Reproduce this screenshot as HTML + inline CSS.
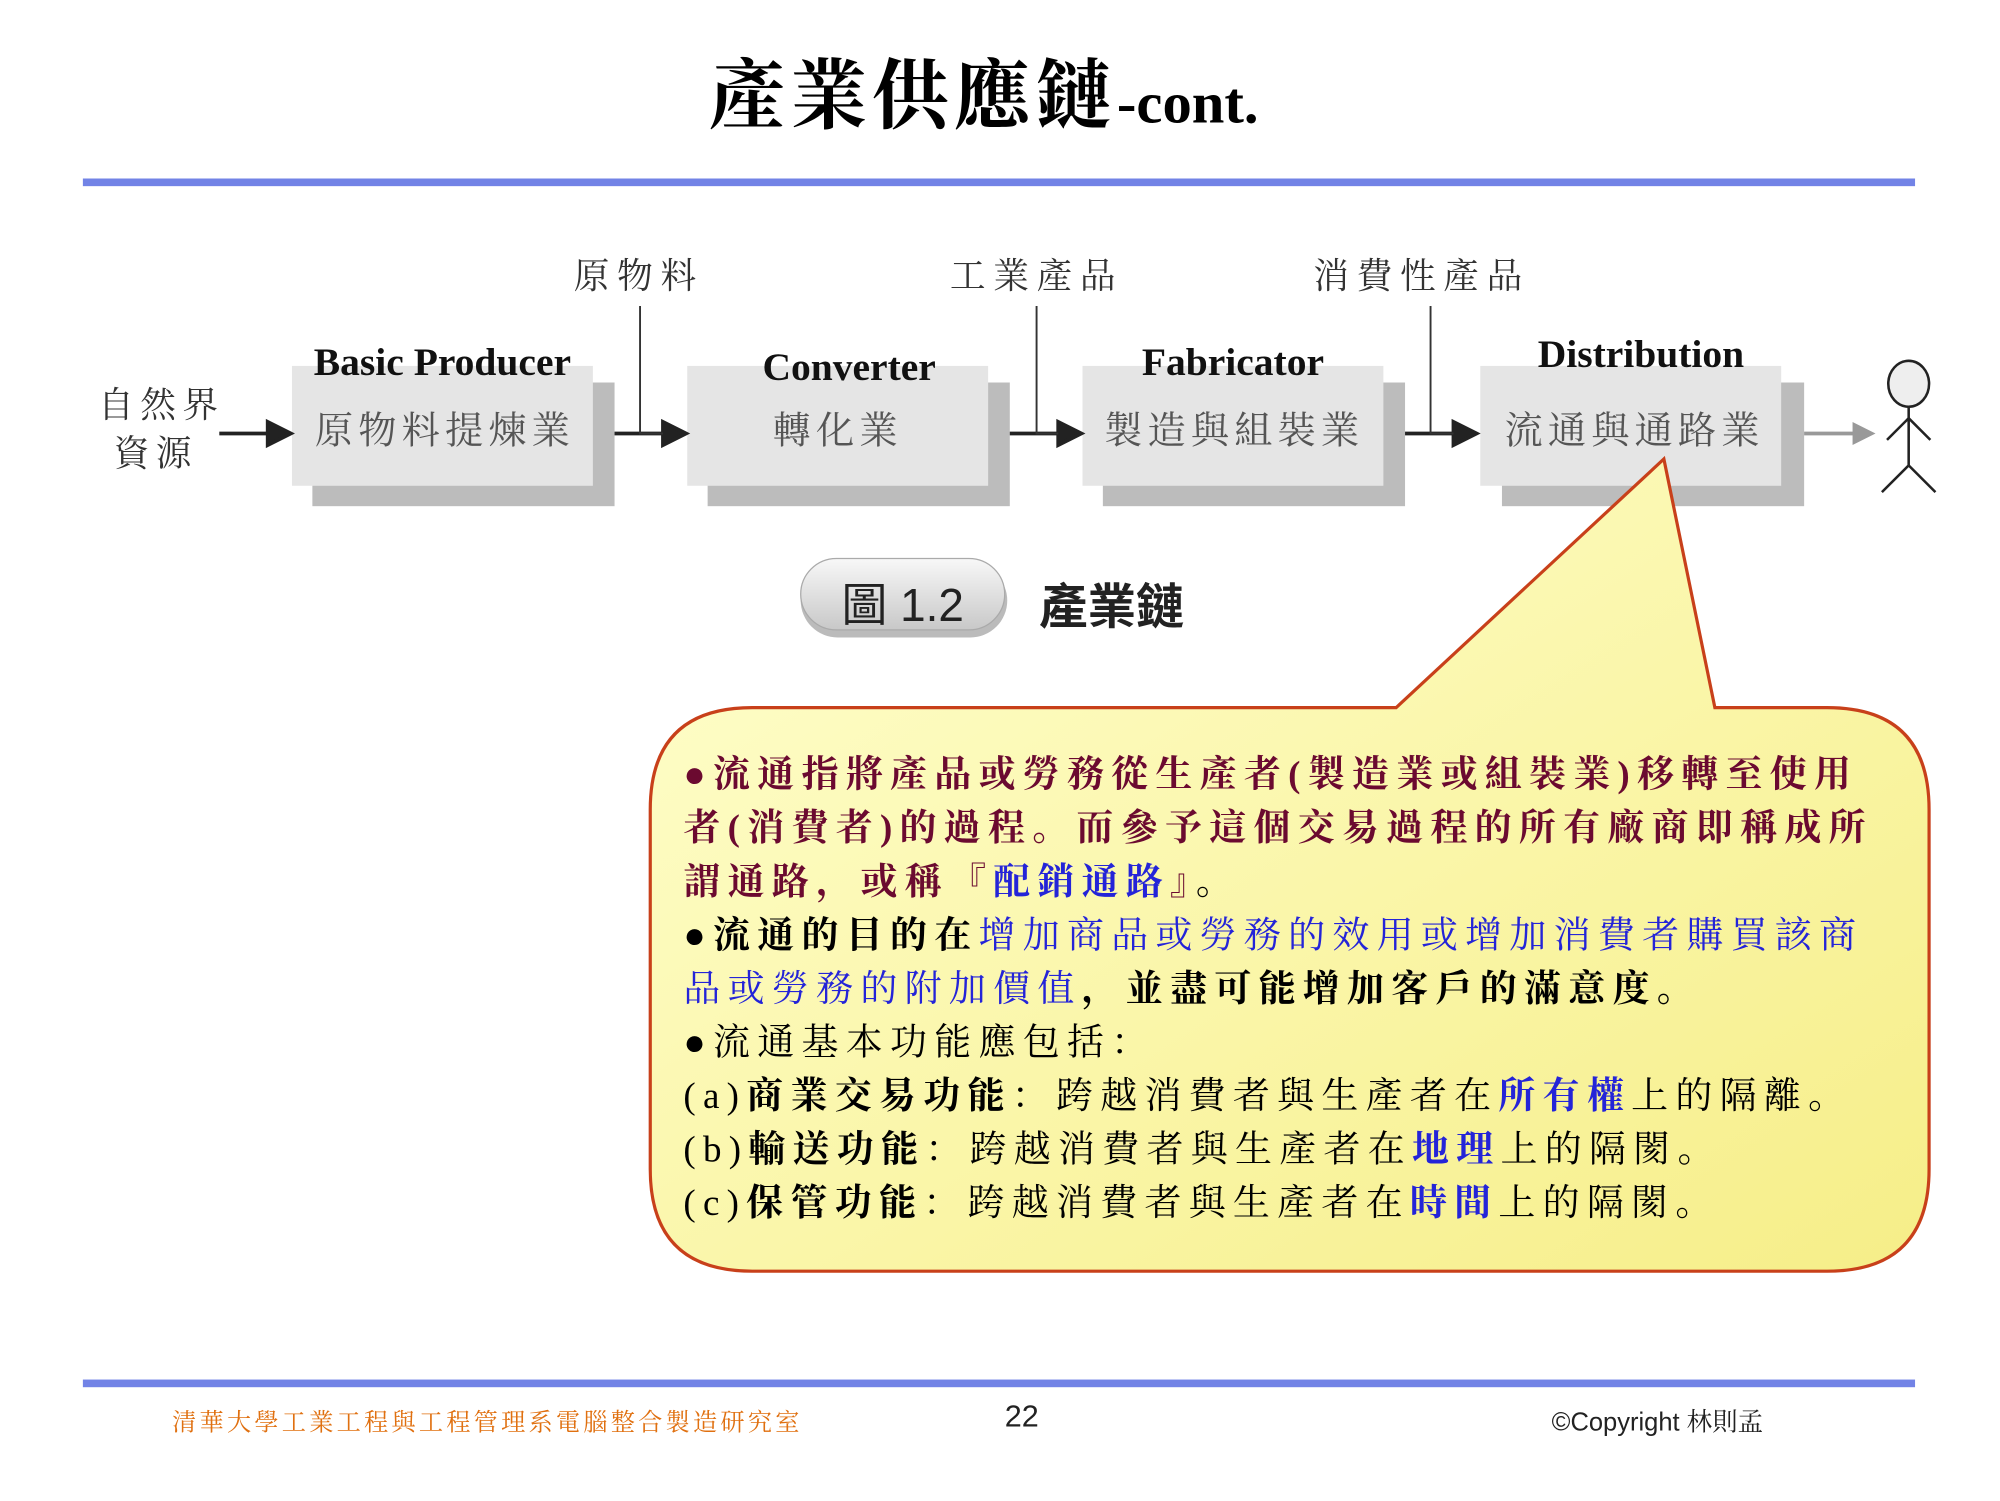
<!DOCTYPE html>
<html><head><meta charset="utf-8">
<style>
html,body{margin:0;padding:0;background:#fff;width:2000px;height:1500px;overflow:hidden}
#s{position:absolute;left:0;top:0;width:1570px;height:1177px;transform:scale(1.2750);transform-origin:0 0}
.a{position:absolute;white-space:nowrap}
.sans{font-family:"Liberation Sans","Noto Sans CJK TC",sans-serif}
.bar{position:absolute;left:65px;width:1437px;height:6px;background:#7283e6}
.fr{position:absolute;background:#e5e5e5;width:236px;height:94px;top:287px}
.sh{position:absolute;background:#bcbcbc;width:237px;height:97px;top:300px}
.hd{position:absolute;font:bold 31px "Liberation Serif",serif;color:#111;white-space:nowrap;text-align:center;width:260px}
.bt{position:absolute;font:30px "Noto Serif CJK SC","Noto Sans CJK TC",serif;color:#555;letter-spacing:4px;white-space:nowrap;text-align:center;width:260px;top:313px}
.lb{position:absolute;font:28px "Noto Serif CJK SC","Noto Sans CJK TC",serif;color:#333;letter-spacing:6px;white-space:nowrap;top:195px}
.t{position:absolute;left:536px;font-size:29px;letter-spacing:5.7px;white-space:nowrap;font-family:"Liberation Serif","Noto Serif CJK SC","Noto Sans CJK TC",serif;line-height:42px}
.m{color:#6b0a30;font-weight:bold}
.b{color:#2424d8}
.k{color:#000;font-weight:bold}
</style></head><body><div id="s">
<div class="a" style="left:556px;top:28px;font:bold 60px 'Noto Serif CJK SC','Noto Sans CJK TC',serif;color:#000;letter-spacing:4px">產業供應鏈<span style="font:bold 46px 'Liberation Serif',serif;letter-spacing:0">-cont.</span></div>
<div class="bar" style="top:140px"></div>

<div class="lb" style="left:450px">原物料</div>
<div class="lb" style="left:745px">工業產品</div>
<div class="lb" style="left:1030px">消費性產品</div>

<div class="a" style="left:77px;top:297px;font:28px 'Noto Serif CJK SC',serif;color:#333;letter-spacing:5px;line-height:38px">自然界<br>&nbsp;資源</div>

<div class="sh" style="left:245px"></div><div class="fr" style="left:229px"></div>
<div class="sh" style="left:555px"></div><div class="fr" style="left:539px"></div>
<div class="sh" style="left:865px"></div><div class="fr" style="left:849px"></div>
<div class="sh" style="left:1178px"></div><div class="fr" style="left:1161px"></div>

<div class="hd" style="left:217px;top:266px">Basic Producer</div>
<div class="hd" style="left:536px;top:270px">Converter</div>
<div class="hd" style="left:837px;top:266px">Fabricator</div>
<div class="hd" style="left:1157px;top:260px">Distribution</div>
<div class="bt" style="left:219px">原物料提煉業</div>
<div class="bt" style="left:527px">轉化業</div>
<div class="bt" style="left:838px">製造與組裝業</div>
<div class="bt" style="left:1152px">流通與通路業</div>

<svg class="a" style="left:0;top:0" width="1570" height="1177">
<g stroke="#222" stroke-width="3" fill="#222">
<line x1="172" y1="340" x2="212" y2="340"/><polygon points="228,340 210,331 210,349"/>
<line x1="482" y1="340" x2="522" y2="340"/><polygon points="538,340 520,331 520,349"/>
<line x1="792" y1="340" x2="832" y2="340"/><polygon points="848,340 830,331 830,349"/>
<line x1="1102" y1="340" x2="1142" y2="340"/><polygon points="1158,340 1140,331 1140,349"/>
</g>
<g stroke="#333" stroke-width="1.5" fill="none">
<polyline points="502,240 502,340 520,340"/>
<polyline points="813,240 813,340 830,340"/>
<polyline points="1122,240 1122,340 1140,340"/>
</g>
<line x1="1415" y1="340" x2="1455" y2="340" stroke="#999" stroke-width="3"/><polygon points="1471,340 1453,331 1453,349" fill="#999"/>
<g stroke="#222" stroke-width="2" fill="none">
<ellipse cx="1497" cy="301" rx="16" ry="18" fill="#eee"/>
<line x1="1497" y1="319" x2="1497" y2="365"/>
<line x1="1497" y1="328" x2="1480" y2="345"/><line x1="1497" y1="328" x2="1514" y2="345"/>
<line x1="1497" y1="365" x2="1476" y2="386"/><line x1="1497" y1="365" x2="1518" y2="386"/>
</g>
<defs>
<linearGradient id="g" x1="0" y1="0" x2="1" y2="1"><stop offset="0" stop-color="#ffffd0"/><stop offset="1" stop-color="#f6ee88"/></linearGradient>
<linearGradient id="p" x1="0" y1="0" x2="0" y2="1"><stop offset="0" stop-color="#f8f8f8"/><stop offset="1" stop-color="#c8c8c8"/></linearGradient>
</defs>
<rect x="628" y="442" width="162" height="58" rx="29" fill="#bbb"/>
<rect x="628" y="438" width="160" height="56" rx="28" fill="url(#p)" stroke="#aaa"/>
<path d="M590,555 L1095,555 L1305,360 L1345,555 L1433,555 Q1513,555 1513,635 L1513,917 Q1513,997 1433,997 L590,997 Q510,997 510,917 L510,635 Q510,555 590,555 Z" fill="url(#g)" stroke="#c8401a" stroke-width="2.5"/>
</svg>
<div class="a sans" style="left:660px;top:446px;font-size:36px;color:#222">圖 1.2</div>
<div class="a" style="left:815px;top:445px;font:bold 38px 'Noto Sans CJK TC',sans-serif;color:#222">產業鏈</div>

<div class="t" style="top:587px"><span class="m">●流通指將產品或勞務從生產者(製造業或組裝業)移轉至使用</span></div>
<div class="t" style="top:629px"><span class="m">者(消費者)的過程。而參予這個交易過程的所有廠商即稱成所</span></div>
<div class="t" style="top:671px"><span class="m">謂通路，或稱『</span><span class="b" style="font-weight:bold">配銷通路</span><span class="m">』</span>。</div>
<div class="t" style="top:713px"><span class="k">●流通的目的在</span><span class="b">增加商品或勞務的效用或增加消費者購買該商</span></div>
<div class="t" style="top:755px"><span class="b">品或勞務的附加價值</span><span class="k">，並盡可能增加客戶的滿意度。</span></div>
<div class="t" style="top:797px">●流通基本功能應包括：</div>
<div class="t" style="top:839px">(a)<b>商業交易功能</b>：跨越消費者與生產者在<b class="b">所有權</b>上的隔離。</div>
<div class="t" style="top:881px">(b)<b>輸送功能</b>：跨越消費者與生產者在<b class="b">地理</b>上的隔閡。</div>
<div class="t" style="top:923px">(c)<b>保管功能</b>：跨越消費者與生產者在<b class="b">時間</b>上的隔閡。</div>

<div class="bar" style="top:1082px"></div>
<div class="a" style="left:135px;top:1101px;font:19px 'Noto Serif CJK SC',serif;color:#e07010;letter-spacing:2.5px">清華大學工業工程與工程管理系電腦整合製造研究室</div>
<div class="a sans" style="left:788px;top:1098px;font-size:24px;color:#222">22</div>
<div class="a" style="left:1217px;top:1099px;font:20px 'Liberation Sans','Noto Serif CJK SC',sans-serif;color:#222">©Copyright 林則孟</div>
</div></body></html>
